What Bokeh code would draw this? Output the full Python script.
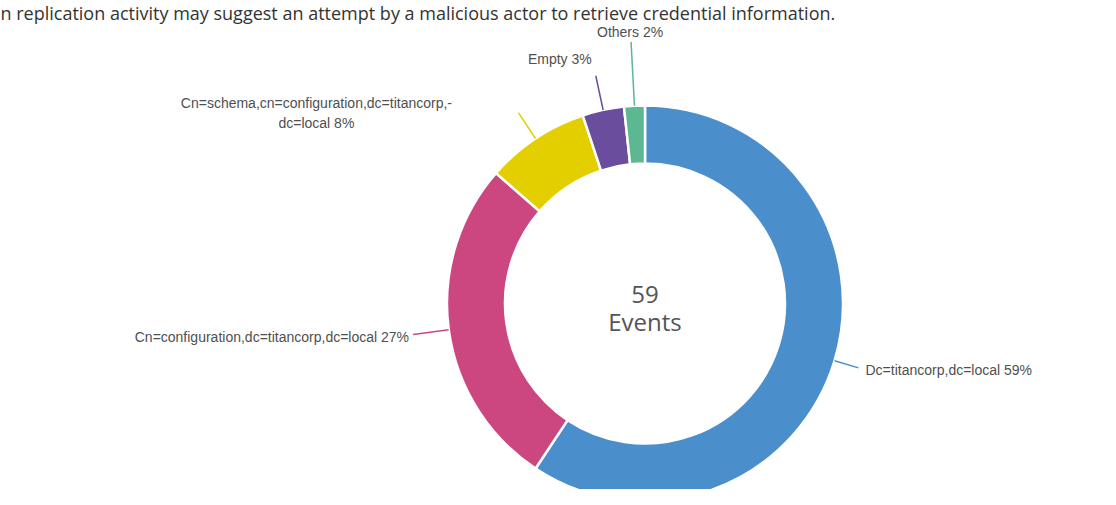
import numpy as np
from bokeh.plotting import figure
from bokeh.models import Range1d, ColumnDataSource
from bokeh.core.properties import value
from bokeh.embed import file_html
from bokeh.resources import INLINE

# ---------------- data ----------------
categories = [
    "Dc=titancorp,dc=local",
    "Cn=configuration,dc=titancorp,dc=local",
    "Cn=schema,cn=configuration,dc=titancorp,-\ndc=local",
    "Empty",
    "Others",
]
counts = [35, 16, 5, 2, 1]
percent_labels = ["59%", "27%", "8%", "3%", "2%"]
colors = ["#4a8fcb", "#cc4780", "#e3cf00", "#6a4d9d", "#5cb893"]
total_label = ["59", "Events"]
title_text = "n replication activity may suggest an attempt by a malicious actor to retrieve credential information."

# ---------------- layout ----------------
W, H = 1100, 489
# data coords: x = screen x, y = 505 - screen y
def Y(sy):
    return 505 - sy

cx, cy = 644.5, Y(303)
r_out, r_in = 198, 140

vals = np.array(counts, dtype=float)
frac = vals / vals.sum()
cum = np.concatenate([[0], np.cumsum(frac)])
# clockwise from 12 o'clock
start = np.pi / 2 - cum[:-1] * 2 * np.pi
end = np.pi / 2 - cum[1:] * 2 * np.pi
mid_cw = (cum[:-1] + cum[1:]) / 2 * 2 * np.pi

p = figure(width=W, height=H, output_backend="svg", toolbar_location=None,
           x_range=Range1d(0, W), y_range=Range1d(Y(H), Y(0)),
           min_border=0, outline_line_color=None)
p.axis.visible = False
p.grid.visible = False
p.background_fill_color = "white"

src = ColumnDataSource(dict(start=start, end=end, color=colors))
p.annular_wedge(x=cx, y=cy, inner_radius=r_in, outer_radius=r_out,
                start_angle="start", end_angle="end", direction="clock",
                fill_color="color", line_color="white", line_width=2.5, source=src)

# leader lines (radial)
leader_len = [25, 36, 31, 35, 64]
xs0 = cx + r_out * np.sin(mid_cw)
ys0 = cy + r_out * np.cos(mid_cw)
xs1 = cx + (r_out + np.array(leader_len)) * np.sin(mid_cw)
ys1 = cy + (r_out + np.array(leader_len)) * np.cos(mid_cw)
for i in range(len(counts)):
    p.line([xs0[i], xs1[i]], [ys0[i], ys1[i]], line_color=colors[i], line_width=1.5)

# label placement relative to line end: (dx, dy, align, baseline)
offsets = [
    (7, -2, "left", "middle"),
    (-4, -2, "right", "middle"),
    (-202, 0, "center", "middle"),
    (-4, 17, "right", "middle"),
    (-1, 10, "center", "middle"),
]
label_font = value("Liberation Sans")
for i in range(len(counts)):
    dx, dy, al, bl = offsets[i]
    txt = categories[i] + " " + percent_labels[i]
    if i == 2:
        lines = txt.split("\n")
        p.text(x=[xs1[i] + dx], y=[ys1[i] + 10], text=[lines[0]], text_align="center",
               text_baseline="middle", text_font=label_font, text_font_size="14px",
               text_color="#4f4f4f")
        p.text(x=[xs1[i] + dx], y=[ys1[i] - 10], text=[lines[1]], text_align="center",
               text_baseline="middle", text_font=label_font, text_font_size="14px",
               text_color="#4f4f4f")
    else:
        p.text(x=[xs1[i] + dx], y=[ys1[i] + dy], text=[txt], text_align=al,
               text_baseline=bl, text_font=label_font, text_font_size="14px",
               text_color="#4f4f4f")

# center text
p.text(x=[cx], y=[cy + 9], text=[total_label[0]], text_align="center", text_baseline="middle",
       text_font=value("Open Sans"), text_font_size="24px", text_color="#555555")
p.text(x=[cx], y=[cy - 18], text=[total_label[1]], text_align="center", text_baseline="middle",
       text_font=value("Open Sans"), text_font_size="24px", text_color="#555555")

# description line at the very top
p.text(x=[0], y=[Y(0)], text=[title_text], text_align="left", text_baseline="top",
       text_font=value("Open Sans"), text_font_size="18px", text_color="#333333")

open("out.html", "w").write(file_html(p, INLINE))
